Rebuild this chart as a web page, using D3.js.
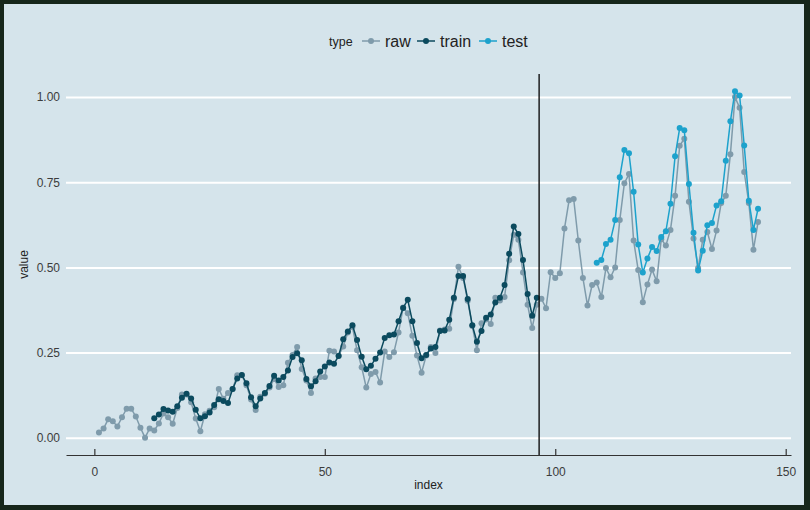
<!DOCTYPE html>
<html>
<head>
<meta charset="utf-8">
<script src="https://cdn.jsdelivr.net/npm/d3@7"></script>
<style>
html,body{margin:0;padding:0;background:#16261a;}
svg{display:block;}
text{font-family:"Liberation Sans",Arial,Helvetica,sans-serif;}
</style>
</head>
<body>
<svg id="chart" width="810" height="510"></svg>
<script>
// AirPassengers, min-max normalised (index 1..144)
const rawStart = 1;
const rawValues = [
 0.015,0.027,0.054,0.048,0.033,0.060,0.085,0.085,0.062,0.029,0.000,0.027,
 0.021,0.042,0.071,0.060,0.041,0.087,0.127,0.127,0.104,0.056,0.019,0.069,
 0.079,0.089,0.143,0.114,0.131,0.143,0.183,0.183,0.154,0.112,0.081,0.120,
 0.129,0.147,0.172,0.149,0.154,0.220,0.243,0.266,0.202,0.168,0.131,0.174,
 0.178,0.178,0.255,0.253,0.241,0.268,0.309,0.325,0.257,0.207,0.147,0.187,
 0.193,0.162,0.253,0.237,0.251,0.309,0.382,0.365,0.299,0.241,0.191,0.241,
 0.266,0.249,0.315,0.318,0.320,0.407,0.502,0.469,0.402,0.328,0.257,0.336,
 0.347,0.334,0.411,0.403,0.413,0.521,0.596,0.581,0.485,0.390,0.322,0.390,
 0.408,0.380,0.486,0.469,0.483,0.614,0.697,0.701,0.579,0.469,0.388,0.448,
 0.456,0.413,0.498,0.471,0.500,0.639,0.747,0.774,0.579,0.492,0.398,0.450,
 0.494,0.459,0.583,0.564,0.610,0.710,0.857,0.878,0.693,0.585,0.498,0.581,
 0.604,0.554,0.608,0.689,0.710,0.832,1.000,0.969,0.780,0.689,0.552,0.633
];
const trainStart = 13;
const trainValues = [
 0.057,0.068,0.084,0.080,0.076,0.092,0.117,0.129,0.115,0.082,0.057,0.063,
 0.074,0.096,0.113,0.108,0.102,0.143,0.174,0.184,0.160,0.119,0.092,0.115,
 0.131,0.152,0.182,0.168,0.178,0.197,0.237,0.248,0.227,0.172,0.151,0.166,
 0.194,0.209,0.221,0.217,0.240,0.289,0.312,0.330,0.287,0.238,0.201,0.211,
 0.232,0.250,0.293,0.301,0.303,0.342,0.381,0.405,0.342,0.278,0.233,0.243,
 0.262,0.266,0.313,0.315,0.346,0.411,0.475,0.475,0.407,0.330,0.282,0.313,
 0.352,0.362,0.397,0.411,0.448,0.540,0.620,0.598,0.522,0.422,0.358,0.411
];
const testStart = 109;
const testValues = [
 0.514,0.522,0.569,0.581,0.639,0.765,0.845,0.835,0.722,0.567,0.485,0.526,
 0.560,0.548,0.589,0.606,0.687,0.826,0.909,0.903,0.745,0.602,0.491,0.549,
 0.624,0.630,0.682,0.694,0.813,0.929,1.017,1.005,0.858,0.696,0.610,0.672
];
const splitIndex = 96.5;
const xTicks = [0, 50, 100, 150];
const yTicks = [0, 0.25, 0.5, 0.75, 1.0];
const seriesNames = ["raw", "train", "test"];
const seriesColors = ["#7f9bab", "#0b4a5e", "#1da2cc"];

(function () {
const toPoints = (start, vals) => vals.map((v, i) => ({x: start + i, y: v}));
const series = [
  {name: "raw", pts: toPoints(rawStart, rawValues)},
  {name: "train", pts: toPoints(trainStart, trainValues)},
  {name: "test", pts: toPoints(testStart, testValues)}
];
const color = d3.scaleOrdinal().domain(seriesNames).range(seriesColors);

const svg = d3.select("#chart");
svg.append("rect").attr("x", 4).attr("y", 4).attr("width", 800).attr("height", 501).attr("fill", "#d5e4eb");

const allX = series.flatMap(s => s.pts.map(p => p.x));
const allY = series.flatMap(s => s.pts.map(p => p.y));
const xMin = d3.min(allX), xMax = d3.max(allX);
const yMin = d3.min(allY), yMax = d3.max(allY);
const xPad = (xMax - xMin) * 0.05, yPad = (yMax - yMin) * 0.05;

const pLeft = 66, pRight = 791, pTop = 74, pBottom = 455;
const x = d3.scaleLinear().domain([xMin - xPad, xMax + xPad]).range([pLeft, pRight]);
const y = d3.scaleLinear().domain([yMin - yPad, yMax + yPad]).range([pBottom, pTop]);

// grid + y labels
const yAxis = svg.append("g").attr("transform", `translate(${pLeft},0)`)
  .call(d3.axisLeft(y).tickValues(yTicks).tickFormat(d3.format(".2f")).tickSize(-(pRight - pLeft)).tickPadding(6));
yAxis.select(".domain").remove();
yAxis.selectAll(".tick line").attr("stroke", "#ffffff").attr("stroke-width", 2);
yAxis.selectAll(".tick text").attr("fill", "#3c3c3c").attr("font-size", 12);

// x axis
const xAxis = svg.append("g").attr("transform", `translate(0,${pBottom})`)
  .call(d3.axisBottom(x).tickValues(xTicks).tickSizeInner(-6).tickSizeOuter(0).tickPadding(12));
xAxis.select(".domain").attr("stroke", "#333333").attr("stroke-width", 1.2);
xAxis.selectAll(".tick line").attr("stroke", "#333333").attr("stroke-width", 1.2);
xAxis.selectAll(".tick text").attr("fill", "#3c3c3c").attr("font-size", 12);

// series
const line = d3.line().x(d => x(d.x)).y(d => y(d.y));
series.forEach(s => {
  const g = svg.append("g");
  g.append("path").datum(s.pts).attr("d", line).attr("fill", "none")
    .attr("stroke", color(s.name)).attr("stroke-width", 1.5);
  g.selectAll("circle").data(s.pts).enter().append("circle")
    .attr("cx", d => x(d.x)).attr("cy", d => y(d.y)).attr("r", 3)
    .attr("fill", color(s.name));
});

// split line
svg.append("line").attr("x1", x(splitIndex)).attr("x2", x(splitIndex))
  .attr("y1", pTop).attr("y2", pBottom).attr("stroke", "#111").attr("stroke-width", 1.4);

// axis titles
svg.append("text").attr("x", (pLeft + pRight) / 2).attr("y", 489).attr("text-anchor", "middle")
  .attr("font-size", 12).attr("fill", "#222").text("index");
svg.append("text").attr("transform", `translate(28,${(pTop + pBottom) / 2}) rotate(-90)`)
  .attr("text-anchor", "middle").attr("font-size", 12).attr("fill", "#222").text("value");

// legend
const lg = svg.append("g").attr("transform", "translate(0,41)");
lg.append("text").attr("x", 329).attr("y", 4.5).attr("font-size", 12.5).attr("fill", "#222").text("type");
const keyX = [362, 417, 479];
seriesNames.forEach((n, i) => {
  const k = lg.append("g").attr("transform", `translate(${keyX[i]},0)`);
  k.append("line").attr("x1", 0).attr("x2", 18).attr("y1", 0).attr("y2", 0)
    .attr("stroke", color(n)).attr("stroke-width", 1.5);
  k.append("circle").attr("cx", 9).attr("cy", 0).attr("r", 3).attr("fill", color(n));
  k.append("text").attr("x", 23).attr("y", 5.5).attr("font-size", 16).attr("fill", "#222").text(n);
});
})();
</script>
</body>
</html>
